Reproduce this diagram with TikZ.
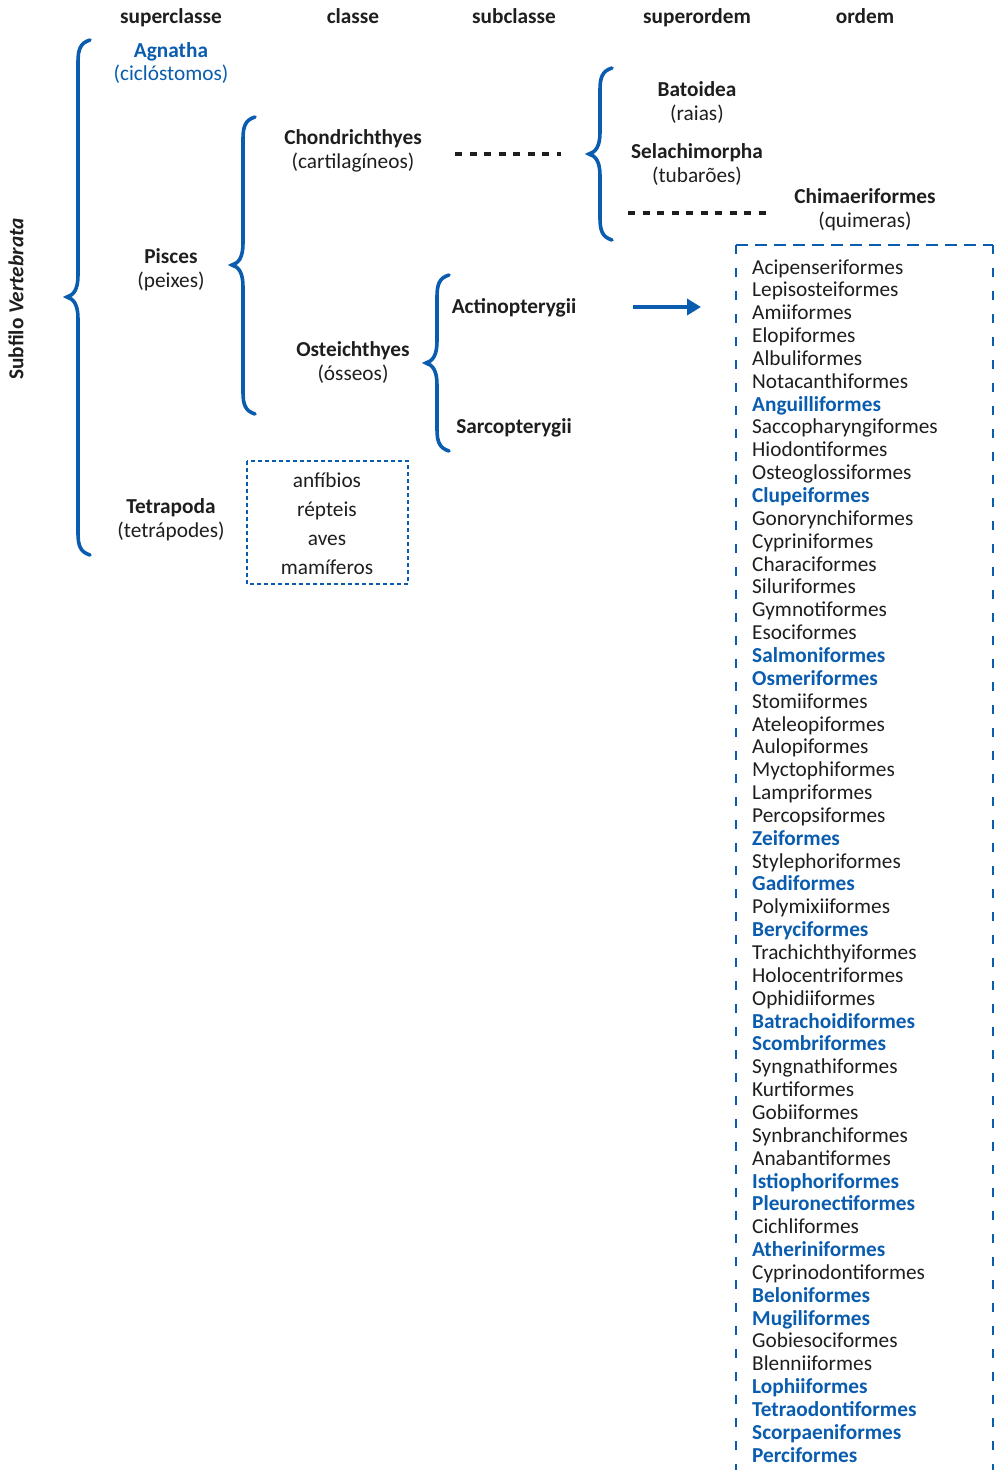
\documentclass[tikz,border=0pt]{standalone}
\usepackage{fontspec}
\setmainfont{Carlito}
\usetikzlibrary{arrows.meta}
\definecolor{fishblue}{RGB}{10,92,174}
\definecolor{txt}{RGB}{30,30,30}
\tikzset{
  lbl/.style={anchor=base, inner sep=0pt, text=txt, font=\fontsize{21.3}{24}\selectfont},
  hdr/.style={lbl, font=\fontsize{21.3}{24}\selectfont\bfseries},
  ordn/.style={anchor=base west, inner sep=0pt, text=txt, font=\fontsize{21.3}{22}\selectfont},
  ordb/.style={ordn, text=fishblue, font=\fontsize{21.3}{22}\selectfont\bfseries},
  brc/.style={draw=fishblue, line width=3.6pt, line cap=round},
  dotline/.style={draw=txt, line width=3.5pt, dash pattern=on 7pt off 7.5pt},
}
\newcommand\OrdN[2]{\node[ordn] (o#1) at (752,{274+22.85*(#1-1)}) {#2};}
\newcommand\OrdB[2]{\node[ordb] (o#1) at (752,{274+22.85*(#1-1)}) {#2};}
\newcommand\Brc[4]{\draw[brc] (#1+12,#2) .. controls (#1+2,#2+3) and (#1,#2+10) .. (#1,#2+22) -- (#1,#3-22) .. controls (#1,#3-8) and (#1-4,#3-2) .. (#1-11,#3) .. controls (#1-4,#3+2) and (#1,#3+8) .. (#1,#3+22) -- (#1,#4-22) .. controls (#1,#4-10) and (#1+2,#4-3) .. (#1+12,#4);}
\begin{document}
\begin{tikzpicture}[x=1pt,y=-1pt]
\useasboundingbox (0,0) rectangle (996,1470);
% headers
\node[hdr] (h1) at (171,23) {superclasse};
\node[hdr] (h2) at (353,23) {classe};
\node[hdr] (h3) at (514,23) {subclasse};
\node[hdr] (h4) at (697,23) {superordem};
\node[hdr] (h5) at (865,23) {ordem};
% side label
\node[text=txt, inner sep=0pt, rotate=90, font=\fontsize{21.3}{24}\selectfont\bfseries] (sub) at (16,299) {Subfilo \textit{Vertebrata}};
% superclasses
\node[hdr, text=fishblue] (agn) at (171,57) {Agnatha};
\node[lbl, text=fishblue] (agn2) at (171,80) {(ciclóstomos)};
\node[hdr] (pis) at (171,263) {Pisces};
\node[lbl] (pis2) at (171,287) {(peixes)};
\node[hdr] (tet) at (171,513) {Tetrapoda};
\node[lbl] (tet2) at (171,537) {(tetrápodes)};
% classes
\node[hdr] (cho) at (353,144) {Chondrichthyes};
\node[lbl] (cho2) at (353,168) {(cartilagíneos)};
\node[hdr] (ost) at (353,356) {Osteichthyes};
\node[lbl] (ost2) at (353,380) {(ósseos)};
% tetrapod box
\draw[fishblue, line width=1.3pt, dash pattern=on 4pt off 3pt] (247,461) rectangle (408,584);
\node[lbl] (t1) at (327,487) {anfíbios};
\node[lbl] (t2) at (327,516) {répteis};
\node[lbl] (t3) at (327,545) {aves};
\node[lbl] (t4) at (327,574) {mamíferos};
% subclasses
\node[hdr] (act) at (514,313) {Actinopterygii};
\node[hdr] (sar) at (514,433) {Sarcopterygii};
% superorders
\node[hdr] (bat) at (697,96) {Batoidea};
\node[lbl] (bat2) at (697,120) {(raias)};
\node[hdr] (sel) at (697,158) {Selachimorpha};
\node[lbl] (sel2) at (697,182) {(tubarões)};
\node[hdr] (chi) at (865,203) {Chimaeriformes};
\node[lbl] (chi2) at (865,227) {(quimeras)};
% braces
\Brc{78}{40}{297}{555}
\Brc{243}{117}{265}{414}
\Brc{437}{275}{363}{451}
\Brc{600}{68}{154}{240}
% dotted connectors
\coordinate (d1a) at (455,154);
\coordinate (d1b) at (561,154);
\coordinate (d2a) at (628,213);
\coordinate (d2b) at (772,213);
\draw[dotline] (d1a) -- (d1b);
\draw[dotline] (d2a) -- (d2b);
% arrow
\coordinate (ara) at (633,307);
\coordinate (arb) at (701,307);
\draw[fishblue, line width=4.5pt, -{Triangle[length=14pt,width=16pt]}] (ara) -- (arb);
% order box
\draw[fishblue, line width=2.6pt, dash pattern=on 12pt off 7pt] (736,245) -- (993,245);
\draw[fishblue, line width=2.6pt, dash pattern=on 9pt off 14pt] (736,245) -- (736,1470);
\draw[fishblue, line width=2.6pt, dash pattern=on 9pt off 14pt] (993,245) -- (993,1470);
% orders
\OrdN{1}{Acipenseriformes}
\OrdN{2}{Lepisosteiformes}
\OrdN{3}{Amiiformes}
\OrdN{4}{Elopiformes}
\OrdN{5}{Albuliformes}
\OrdN{6}{Notacanthiformes}
\OrdB{7}{Anguilliformes}
\OrdN{8}{Saccopharyngiformes}
\OrdN{9}{Hiodontiformes}
\OrdN{10}{Osteoglossiformes}
\OrdB{11}{Clupeiformes}
\OrdN{12}{Gonorynchiformes}
\OrdN{13}{Cypriniformes}
\OrdN{14}{Characiformes}
\OrdN{15}{Siluriformes}
\OrdN{16}{Gymnotiformes}
\OrdN{17}{Esociformes}
\OrdB{18}{Salmoniformes}
\OrdB{19}{Osmeriformes}
\OrdN{20}{Stomiiformes}
\OrdN{21}{Ateleopiformes}
\OrdN{22}{Aulopiformes}
\OrdN{23}{Myctophiformes}
\OrdN{24}{Lampriformes}
\OrdN{25}{Percopsiformes}
\OrdB{26}{Zeiformes}
\OrdN{27}{Stylephoriformes}
\OrdB{28}{Gadiformes}
\OrdN{29}{Polymixiiformes}
\OrdB{30}{Beryciformes}
\OrdN{31}{Trachichthyiformes}
\OrdN{32}{Holocentriformes}
\OrdN{33}{Ophidiiformes}
\OrdB{34}{Batrachoidiformes}
\OrdB{35}{Scombriformes}
\OrdN{36}{Syngnathiformes}
\OrdN{37}{Kurtiformes}
\OrdN{38}{Gobiiformes}
\OrdN{39}{Synbranchiformes}
\OrdN{40}{Anabantiformes}
\OrdB{41}{Istiophoriformes}
\OrdB{42}{Pleuronectiformes}
\OrdN{43}{Cichliformes}
\OrdB{44}{Atheriniformes}
\OrdN{45}{Cyprinodontiformes}
\OrdB{46}{Beloniformes}
\OrdB{47}{Mugiliformes}
\OrdN{48}{Gobiesociformes}
\OrdN{49}{Blenniiformes}
\OrdB{50}{Lophiiformes}
\OrdB{51}{Tetraodontiformes}
\OrdB{52}{Scorpaeniformes}
\OrdB{53}{Perciformes}
\end{tikzpicture}
\end{document}
